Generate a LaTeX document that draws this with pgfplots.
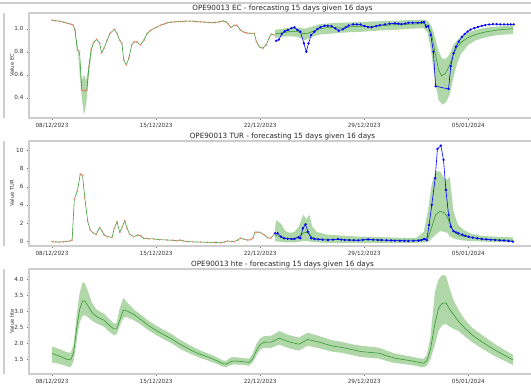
\documentclass[border=0pt]{standalone}
\usepackage{fontspec}
\setmainfont{DejaVu Sans}
\usepackage{pgfplots}
\usepackage{pgfplotstable}
\pgfplotsset{compat=1.18}
\usepgfplotslibrary{fillbetween}
\definecolor{obsred}{RGB}{238,145,125}
\definecolor{fgreen}{RGB}{45,150,40}
\definecolor{bandc}{RGB}{175,215,168}
\definecolor{framec}{RGB}{205,205,205}

% ---------- EC ----------
\pgfplotstableread{
d v
0.00 1.075
0.25 1.070
0.50 1.065
0.75 1.058
1.00 1.048
1.25 1.040
1.40 1.035
1.55 0.990
1.70 0.815
1.85 0.800
2.00 0.465
2.16 0.460
2.34 0.467
2.48 0.670
2.63 0.820
2.80 0.880
3.00 0.908
3.20 0.873
3.33 0.790
3.50 0.830
3.70 0.900
3.90 0.960
4.20 0.995
4.37 0.960
4.55 0.900
4.70 0.870
4.82 0.730
5.00 0.685
5.18 0.750
5.36 0.860
5.54 0.887
5.70 0.885
5.95 0.860
6.17 0.900
6.40 0.960
6.62 0.985
6.85 1.003
7.10 1.018
7.30 1.030
7.55 1.042
7.75 1.052
8.00 1.057
8.25 1.060
8.50 1.062
8.75 1.064
9.00 1.066
9.25 1.067
9.50 1.065
9.75 1.062
10.00 1.060
10.25 1.058
10.50 1.055
10.75 1.053
11.00 1.055
11.25 1.060
11.50 1.068
11.70 1.060
11.85 1.040
12.03 1.012
12.25 1.030
12.43 1.030
12.66 0.990
12.90 0.970
13.10 0.963
13.30 0.960
13.60 0.960
13.75 0.887
13.95 0.843
14.17 0.830
14.40 0.860
14.60 0.920
14.75 0.955
14.92 0.945
}\ECobs

\pgfplotstableread{
d v
15.07 0.896
15.25 0.905
15.45 0.955
15.65 0.978
15.86 0.990
16.10 1.005
16.30 1.012
16.50 0.990
16.70 0.975
16.94 0.873
17.10 0.800
17.25 0.873
17.43 0.945
17.65 0.974
17.85 0.998
18.05 1.014
18.33 1.026
18.55 1.026
18.80 1.023
19.05 1.003
19.28 0.983
19.57 0.995
19.75 1.012
19.95 1.028
20.25 1.038
20.50 1.038
20.75 1.037
21.03 1.023
21.25 1.015
21.50 1.013
21.80 1.023
22.05 1.030
22.40 1.038
22.70 1.044
23.06 1.047
23.30 1.044
23.50 1.040
23.75 1.046
23.97 1.052
24.25 1.052
24.60 1.052
24.85 1.056
25.02 1.060
25.16 1.017
25.30 1.023
25.47 0.945
25.65 0.800
25.80 0.500
26.67 0.476
26.82 0.675
27.00 0.786
27.16 0.843
27.35 0.887
27.57 0.930
27.75 0.955
27.95 0.976
28.15 0.993
28.40 1.005
28.65 1.016
28.90 1.025
29.14 1.032
29.40 1.037
29.65 1.040
29.90 1.040
30.15 1.038
30.40 1.038
30.65 1.038
30.85 1.038
31.05 1.038
}\ECfo

\pgfplotstableread{
d m
15.00 0.955
15.50 0.965
16.00 0.975
16.50 0.975
16.90 0.958
17.20 0.960
17.60 0.980
18.00 1.000
18.50 1.010
19.00 1.010
19.50 1.005
20.00 1.015
20.50 1.022
21.00 1.020
21.50 1.018
22.00 1.025
22.50 1.030
23.00 1.035
23.50 1.035
24.00 1.040
24.50 1.042
25.00 1.045
25.25 1.030
25.50 0.970
25.75 0.800
26.00 0.640
26.20 0.590
26.45 0.610
26.70 0.670
27.00 0.780
27.25 0.840
27.50 0.880
28.00 0.925
28.50 0.950
29.00 0.968
29.50 0.980
30.00 0.990
30.50 0.996
31.00 1.000
}\ECfm

\pgfplotstableread{
d lo hi
15.00 0.920 0.990
15.50 0.930 1.000
16.00 0.935 1.010
16.50 0.930 1.010
17.00 0.900 1.000
17.50 0.930 1.020
18.00 0.950 1.040
19.00 0.960 1.050
20.00 0.970 1.055
21.00 0.975 1.060
22.00 0.985 1.065
23.00 0.990 1.070
24.00 1.000 1.075
25.00 1.005 1.080
25.25 0.970 1.070
25.50 0.800 1.030
25.75 0.550 0.930
26.00 0.380 0.800
26.25 0.340 0.740
26.50 0.360 0.740
26.75 0.430 0.780
27.00 0.580 0.860
27.25 0.700 0.900
27.50 0.780 0.930
28.00 0.860 0.970
28.50 0.900 0.990
29.00 0.920 1.005
29.50 0.935 1.015
30.00 0.945 1.020
30.50 0.950 1.025
31.00 0.955 1.030
}\ECband

\pgfplotstableread{
d lo hi
1.50 0.990 1.000
1.75 0.780 0.840
2.00 0.400 0.550
2.15 0.250 0.600
2.30 0.350 0.550
2.50 0.640 0.720
2.75 0.860 0.880
}\ECdip

% ---------- TUR ----------
\pgfplotstableread{
d v
0.00 -0.07
0.25 -0.10
0.50 -0.12
0.75 -0.08
1.00 -0.05
1.20 0.00
1.35 0.10
1.50 4.65
1.70 5.50
1.90 7.40
2.05 7.25
2.20 4.80
2.40 2.14
2.57 1.22
2.80 0.85
2.97 0.74
3.20 1.48
3.36 1.10
3.51 0.66
3.74 0.48
4.03 0.40
4.19 1.40
4.37 2.14
4.55 0.96
4.73 1.59
4.89 2.25
5.05 1.40
5.22 0.74
5.50 0.48
5.77 0.66
5.95 0.60
6.17 0.30
6.50 0.25
6.85 0.22
7.25 0.15
7.75 0.11
8.10 0.08
8.40 0.04
8.60 0.10
8.85 0.00
9.10 -0.07
9.50 -0.10
10.00 -0.12
10.45 -0.15
10.90 -0.16
11.35 -0.18
11.60 -0.10
11.80 0.00
12.05 -0.05
12.25 -0.07
12.50 0.10
12.66 0.30
12.90 0.20
13.15 0.10
13.35 0.15
13.50 0.30
13.65 0.96
13.80 0.97
13.94 0.96
14.10 0.85
14.28 0.66
14.50 0.37
14.70 0.30
14.90 0.66
}\TURobs

\pgfplotstableread{
d v
15.00 0.85
15.17 0.85
15.40 0.48
15.60 0.30
15.85 0.25
16.10 0.22
16.30 0.22
16.57 0.40
16.70 0.30
16.87 1.40
17.05 1.85
17.20 1.03
17.43 0.30
17.65 0.22
17.90 0.18
18.20 0.14
18.56 0.11
18.90 0.15
19.24 0.22
19.45 0.15
19.68 0.11
20.00 0.10
20.30 0.08
20.60 0.07
20.90 0.12
21.26 0.18
21.60 0.14
21.90 0.11
22.16 0.11
22.50 0.08
22.80 0.06
23.06 0.04
23.40 0.03
23.70 0.02
23.97 0.00
24.30 0.02
24.64 0.04
24.85 0.10
25.02 0.22
25.20 0.11
25.36 1.77
25.54 3.99
25.77 6.94
25.92 10.18
26.15 10.55
26.33 8.97
26.49 5.65
26.67 2.88
26.82 1.59
27.00 1.10
27.17 0.95
27.34 0.85
27.60 0.70
27.80 0.58
28.02 0.48
28.30 0.38
28.60 0.30
28.90 0.22
29.20 0.18
29.50 0.14
29.80 0.11
30.10 0.08
30.40 0.05
30.70 0.00
31.00 -0.07
}\TURfo

\pgfplotstableread{
d m lo hi
15.00 0.70 0.00 1.50
15.10 0.60 -0.05 2.30
15.40 0.45 -0.10 1.90
15.70 0.30 -0.15 1.10
16.00 0.25 -0.15 0.90
16.30 0.30 -0.15 1.00
16.60 0.50 -0.10 1.60
16.90 0.90 0.00 2.90
17.10 0.95 0.00 2.40
17.30 0.80 -0.05 2.90
17.50 0.40 -0.10 1.60
17.80 0.25 -0.15 1.00
18.50 0.20 -0.20 0.70
19.50 0.15 -0.20 0.60
20.50 0.12 -0.20 0.50
21.50 0.12 -0.20 0.45
22.50 0.10 -0.20 0.40
23.50 0.08 -0.20 0.35
24.50 0.10 -0.20 0.35
25.00 0.20 -0.15 1.00
25.30 0.40 -0.10 3.50
25.55 1.60 0.30 6.40
25.80 2.90 0.70 7.70
26.10 3.30 1.10 7.70
26.40 3.10 1.00 6.90
26.60 2.60 0.90 6.80
26.75 1.96 0.50 7.10
27.00 1.10 0.30 3.30
27.30 0.70 0.15 1.80
27.70 0.50 0.05 1.20
28.20 0.38 0.00 0.80
28.80 0.25 -0.05 0.60
29.50 0.18 -0.10 0.50
30.20 0.12 -0.10 0.45
31.00 0.08 -0.10 0.40
}\TURf

% ---------- hte ----------
\pgfplotstableread{
d m lo hi
0.00 1.68 1.40 1.90
0.50 1.60 1.36 1.82
1.00 1.50 1.28 1.72
1.25 1.48 1.25 1.70
1.45 1.70 1.45 1.95
1.65 2.45 2.05 2.85
1.85 3.05 2.65 3.55
2.05 3.32 2.85 3.90
2.20 3.32 2.88 3.88
2.40 3.18 2.82 3.65
2.70 2.95 2.70 3.25
3.00 2.83 2.62 3.05
3.50 2.72 2.52 2.92
3.80 2.58 2.38 2.78
4.15 2.45 2.25 2.62
4.35 2.45 2.28 2.62
4.55 2.72 2.55 3.10
4.80 3.04 2.80 3.42
5.00 3.02 2.82 3.30
5.50 2.90 2.72 3.06
6.00 2.73 2.58 2.88
6.50 2.55 2.40 2.70
7.00 2.40 2.26 2.55
7.50 2.27 2.13 2.42
8.00 2.15 2.01 2.30
8.50 2.00 1.86 2.14
9.00 1.87 1.74 2.01
9.50 1.75 1.63 1.88
10.00 1.65 1.54 1.77
10.50 1.57 1.46 1.68
11.00 1.47 1.37 1.58
11.50 1.36 1.27 1.46
11.75 1.35 1.26 1.46
12.00 1.42 1.32 1.55
12.25 1.45 1.34 1.57
12.75 1.43 1.33 1.54
13.25 1.40 1.30 1.52
13.50 1.52 1.40 1.68
13.75 1.78 1.62 1.98
14.00 1.96 1.80 2.15
14.25 2.03 1.86 2.22
14.75 2.04 1.86 2.24
15.30 2.16 1.96 2.38
15.90 2.05 1.85 2.26
16.60 1.97 1.77 2.18
17.20 2.12 1.92 2.33
18.00 2.03 1.84 2.22
18.80 1.92 1.74 2.10
19.50 1.87 1.70 2.04
20.20 1.80 1.63 1.97
20.80 1.74 1.57 1.92
21.50 1.71 1.54 1.89
22.00 1.69 1.52 1.86
22.50 1.61 1.45 1.77
23.00 1.54 1.39 1.69
23.50 1.50 1.36 1.64
24.20 1.45 1.32 1.58
24.70 1.40 1.27 1.53
25.00 1.38 1.25 1.52
25.20 1.45 1.30 1.62
25.45 1.80 1.50 2.20
25.75 2.60 1.95 3.60
26.00 3.10 2.40 4.00
26.25 3.25 2.57 4.14
26.50 3.26 2.60 4.10
26.75 3.05 2.52 3.70
27.00 2.90 2.45 3.35
27.35 2.68 2.38 3.03
27.80 2.45 2.20 2.72
28.25 2.26 2.04 2.49
28.80 2.08 1.87 2.30
29.40 1.90 1.70 2.10
29.90 1.76 1.57 1.94
30.40 1.63 1.46 1.80
31.00 1.48 1.32 1.64
}\HTE

\pgfplotsset{
  myax/.style={
    scale only axis, width=507pt, height=105pt,
    anchor=north west,
    xmin=-1.55, xmax=32.55,
    axis line style={framec, line width=1.2pt},
    tick pos=left, tick align=outside,
    major tick length=2pt,
    tick style={black!55, line width=0.4pt},
    xtick={0,7,14,21,28},
    xticklabels={08/12/2023,15/12/2023,22/12/2023,29/12/2023,05/01/2024},
    /pgf/number format/assume math mode=true,
    tick label style={font=\fontsize{5.7}{6.5}\selectfont, text=black!80},
    every axis y label/.style={at={(rel axis cs:0,0.5)}, xshift=-17pt, rotate=90, anchor=center,
      font=\fontsize{5.2}{6}\selectfont, text=black!80},
    every axis title shift=0pt,
    title style={at={(0.5,1)}, anchor=base, yshift=2.5pt, font=\fontsize{7.2}{8}\selectfont, text=black!85},
  },
  gline/.style={fgreen, line width=0.55pt, no marks},
  redobs/.style={draw=none, mark=*, mark size=0.85pt, mark options={fill=obsred, draw=obsred, line width=0.2pt, fill opacity=0.85}},
  blueobs/.style={blue, line width=0.6pt, mark=*, mark size=0.85pt, mark options={fill=blue, draw=blue}},
  bandfill/.style={fill=bandc, draw=none},
}

\begin{document}
\begin{tikzpicture}
% frame pieces of the surrounding figure
\draw[framec, line width=1.2pt] (0,-3pt) -- (531pt,-3pt);
\draw[framec, line width=1.2pt] (4pt,-13pt) -- (4pt,-118pt);
\draw[framec, line width=1.2pt] (4pt,-141pt) -- (4pt,-246pt);
\draw[framec, line width=1.2pt] (4pt,-269pt) -- (4pt,-374pt);

% ---------------- EC ----------------
\begin{axis}[myax, at={(29pt,-13pt)},
  ymin=0.2235, ymax=1.137, ytick={0.4,0.6,0.8,1.0},
  yticklabel style={/pgf/number format/fixed, /pgf/number format/fixed zerofill, /pgf/number format/precision=1},
  ylabel={Value EC},
  title={OPE90013 EC - forecasting 15 days given 16 days}]
\addplot[name path=ech, draw=none] table[x=d,y=hi]{\ECband};
\addplot[name path=ecl, draw=none] table[x=d,y=lo]{\ECband};
\addplot[bandfill] fill between[of=ech and ecl];
\addplot[name path=edh, draw=none] table[x=d,y=hi]{\ECdip};
\addplot[name path=edl, draw=none] table[x=d,y=lo]{\ECdip};
\addplot[bandfill] fill between[of=edh and edl];
\addplot[gline] table[x=d,y=v]{\ECobs};
\addplot[gline] table[x=d,y=m]{\ECfm};
\addplot[redobs] table[x=d,y=v]{\ECobs};
\addplot[blueobs] table[x=d,y=v]{\ECfo};
\end{axis}

% ---------------- TUR ----------------
\begin{axis}[myax, at={(29pt,-141pt)},
  ymin=-0.553, ymax=11.06, ytick={0,2,4,6,8,10},
  ylabel={Value TUR},
  title={OPE90013 TUR - forecasting 15 days given 16 days}]
\addplot[name path=tuh, draw=none] table[x=d,y=hi]{\TURf};
\addplot[name path=tul, draw=none] table[x=d,y=lo]{\TURf};
\addplot[bandfill] fill between[of=tuh and tul];
\addplot[gline] table[x=d,y=v]{\TURobs};
\addplot[gline] table[x=d,y=m]{\TURf};
\addplot[redobs] table[x=d,y=v]{\TURobs};
\addplot[blueobs] table[x=d,y=v]{\TURfo};
\end{axis}

% ---------------- hte ----------------
\begin{axis}[myax, at={(29pt,-269pt)},
  ymin=1.04, ymax=4.32, ytick={1.5,2.0,2.5,3.0,3.5,4.0},
  yticklabel style={/pgf/number format/fixed, /pgf/number format/fixed zerofill, /pgf/number format/precision=1},
  ylabel={Value hte},
  title={OPE90013 hte - forecasting 15 days given 16 days}]
\addplot[name path=hth, draw=none] table[x=d,y=hi]{\HTE};
\addplot[name path=htl, draw=none] table[x=d,y=lo]{\HTE};
\addplot[bandfill] fill between[of=hth and htl];
\addplot[gline] table[x=d,y=m]{\HTE};
\end{axis}
\pgfresetboundingbox
\path[use as bounding box] (0,-384pt) rectangle (531pt,0);
\end{tikzpicture}
\end{document}
